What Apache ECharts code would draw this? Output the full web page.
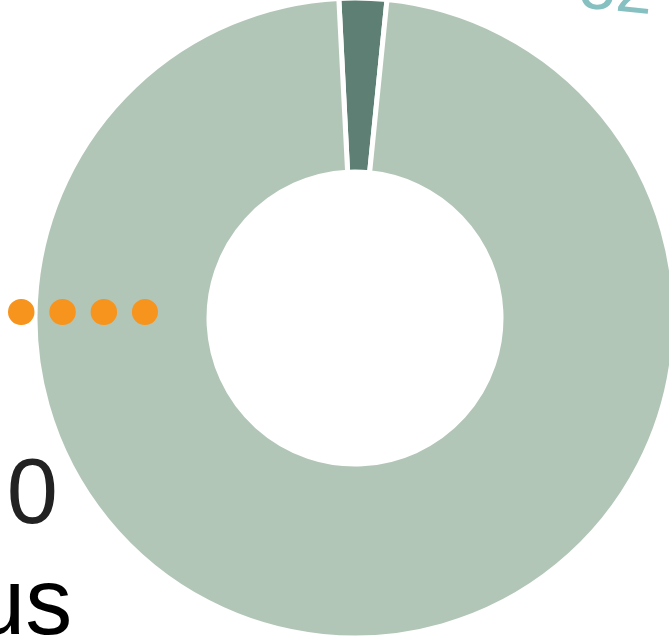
<!DOCTYPE html>
<html><head><meta charset="utf-8">
<script src="https://cdn.jsdelivr.net/npm/echarts@6/dist/echarts.min.js"></script>
<style>html,body{margin:0;padding:0;background:#fff}#c{width:669px;height:640px}</style>
</head><body><div id="c"></div>
<script>
const sliceNames = ['Small', 'Large'];
const sliceValues = [2.4, 97.6];
const sliceColors = ['#5e7f74', '#b2c6b7'];
const dotX = [21, 145];
const dotY = [312, 312];
const labelZero = '0';
const labelUs = 'us';
const labelTop = '52';

const chart = echarts.init(document.getElementById('c'), null, {renderer: 'canvas'});
chart.setOption({
  animation: false,
  grid: {left: 0, right: 0, top: 0, bottom: 0},
  xAxis: {type: 'value', min: 0, max: 669, show: false},
  yAxis: {type: 'value', min: 0, max: 640, inverse: true, show: false},
  series: [
    {
      type: 'pie',
      center: [355, 318],
      radius: [146, 320],
      startAngle: 92.9,
      clockwise: true,
      label: {show: false},
      labelLine: {show: false},
      silent: true,
      itemStyle: {borderColor: '#fff', borderWidth: 5},
      data: sliceNames.map((n, i) => ({name: n, value: sliceValues[i], itemStyle: {color: sliceColors[i]}}))
    },
    {
      type: 'line',
      z: 5,
      symbol: 'none',
      data: dotX.map((x, i) => [x, dotY[i]]),
      lineStyle: {color: '#f7941d', width: 26, type: [0.5, 40.8], cap: 'round'}
    }
  ],
  graphic: [
    {type: 'text', right: 611, top: 452, style: {text: labelZero, font: '92px "Liberation Sans", Arial, sans-serif', fill: '#222'}},
    {type: 'text', left: -27, top: 561, style: {text: labelUs, font: '94px "Liberation Sans", Arial, sans-serif', fill: '#000'}},
    {type: 'text', x: 583, y: -44, rotation: -0.1, style: {text: labelTop, font: '66px "Liberation Sans", Arial, sans-serif', fill: '#86c0c0'}}
  ]
});
</script></body></html>
